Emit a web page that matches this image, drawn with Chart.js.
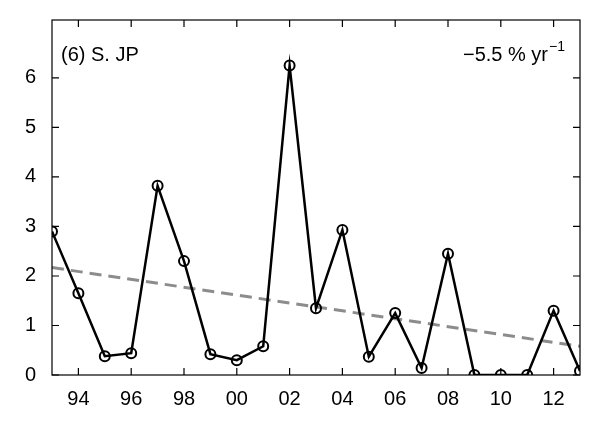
<!DOCTYPE html>
<html>
<head>
<meta charset="utf-8">
<script src="https://cdn.jsdelivr.net/npm/chart.js@4"></script>
<style>
  html, body { margin: 0; padding: 0; background: #fff; }
  #wrap { width: 600px; height: 430px; }
</style>
</head>
<body>
<div id="wrap"><canvas id="chart"></canvas></div>
<script>
// data
const years = [1993, 1994, 1995, 1996, 1997, 1998, 1999, 2000, 2001, 2002,
               2003, 2004, 2005, 2006, 2007, 2008, 2009, 2010, 2011, 2012, 2013];
const values = [2.9, 1.65, 0.38, 0.44, 3.82, 2.3, 0.42, 0.3, 0.58, 6.25,
                1.35, 2.93, 0.37, 1.25, 0.14, 2.45, 0, 0, 0, 1.3, 0.08];
const trendYears = [1993, 2013];
const trendValues = [2.17, 0.58];
const xTicks = [1994, 1996, 1998, 2000, 2002, 2004, 2006, 2008, 2010, 2012];
const yTicks = [0, 1, 2, 3, 4, 5, 6];
const panelLabel = '(6) S. JP';
const rateLabel = '\u22125.5 % yr';

const FONT = '"Liberation Sans", Arial, sans-serif';

const frameTicks = {
    id: 'frameTicks',
    afterDraw(chart) {
        const { ctx, chartArea: a, scales: { x, y } } = chart;
        ctx.save();
        ctx.strokeStyle = '#000';
        ctx.lineWidth = 1.2;
        ctx.strokeRect(a.left, a.top, a.right - a.left, a.bottom - a.top);
        const len = 7;
        ctx.beginPath();
        xTicks.forEach(t => {
            const px = x.getPixelForValue(t);
            ctx.moveTo(px, a.bottom); ctx.lineTo(px, a.bottom - len);
            ctx.moveTo(px, a.top); ctx.lineTo(px, a.top + len);
        });
        yTicks.forEach(t => {
            const py = y.getPixelForValue(t);
            ctx.moveTo(a.left, py); ctx.lineTo(a.left + len, py);
            ctx.moveTo(a.right, py); ctx.lineTo(a.right - len, py);
        });
        ctx.stroke();

        ctx.fillStyle = '#000';
        ctx.textBaseline = 'alphabetic';
        ctx.font = '20px ' + FONT;
        ctx.textAlign = 'left';
        ctx.fillText(panelLabel, a.left + 9, a.top + 41);
        ctx.textAlign = 'right';
        const supW = 18;
        ctx.fillText(rateLabel, a.right - 14 - supW, a.top + 41);
        ctx.font = '14px ' + FONT;
        ctx.textAlign = 'left';
        ctx.fillText('\u22121', a.right - 14 - supW + 1, a.top + 31);
        ctx.restore();
    }
};

new Chart(document.getElementById('chart'), {
    type: 'line',
    data: {
        datasets: [
            {
                data: trendYears.map((t, i) => ({ x: t, y: trendValues[i] })),
                borderColor: '#8c8c8c',
                borderWidth: 3,
                borderDash: [12, 7],
                pointRadius: 0,
                order: 2
            },
            {
                data: years.map((t, i) => ({ x: t, y: values[i] })),
                borderColor: '#000',
                borderWidth: 2.5,
                pointRadius: 5,
                pointBorderWidth: 2,
                pointBackgroundColor: 'rgba(0,0,0,0)',
                pointBorderColor: '#000',
                tension: 0,
                order: 1
            }
        ]
    },
    options: {
        responsive: true,
        maintainAspectRatio: false,
        animation: false,
        layout: { padding: { top: 15, right: 20, left: 0, bottom: 0 } },
        plugins: { legend: { display: false }, tooltip: { enabled: false } },
        scales: {
            x: {
                type: 'linear',
                min: 1993, max: 2013,
                grid: { display: false },
                border: { display: false },
                afterBuildTicks: s => { s.ticks = xTicks.map(v => ({ value: v })); },
                afterFit: s => { s.height = 55; },
                ticks: {
                    color: '#000',
                    padding: 4,
                    font: { family: FONT, size: 20 },
                    callback: v => String(v % 100).padStart(2, '0')
                }
            },
            y: {
                min: 0, max: 7.17,
                grid: { display: false },
                border: { display: false },
                afterBuildTicks: s => { s.ticks = yTicks.map(v => ({ value: v })); },
                afterFit: s => { s.width = 52; },
                ticks: {
                    color: '#000',
                    padding: 8,
                    font: { family: FONT, size: 20 }
                }
            }
        }
    },
    plugins: [frameTicks]
});
</script>
</body>
</html>
